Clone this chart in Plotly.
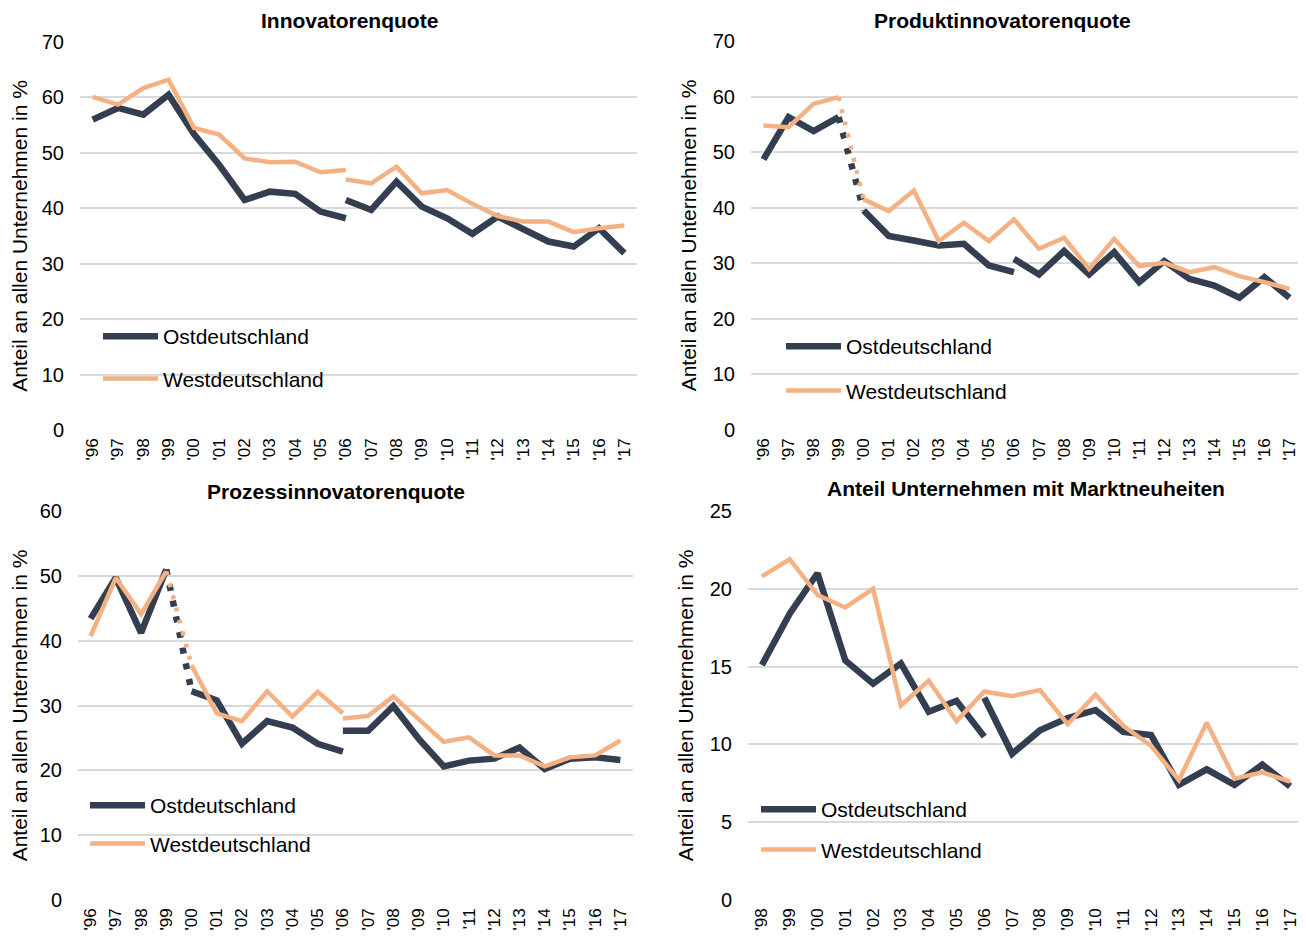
import plotly.graph_objects as go

# ---------------- data ----------------
years = ["'96", "'97", "'98", "'99", "'00", "'01", "'02", "'03", "'04", "'05", "'06",
         "'07", "'08", "'09", "'10", "'11", "'12", "'13", "'14", "'15", "'16", "'17"]
years_markt = years[2:]

# Innovatorenquote
innov_ost_9606 = [56.0, 58.1, 56.9, 60.5, 53.4, 47.8, 41.5, 43.0, 42.6, 39.4, 38.2]
innov_ost_0617 = [41.5, 39.7, 44.8, 40.3, 38.2, 35.4, 38.5, 36.4, 34.0, 33.1, 36.4, 31.9]
innov_west_9606 = [60.1, 58.7, 61.7, 63.2, 54.5, 53.3, 49.0, 48.3, 48.4, 46.5, 46.9]
innov_west_0617 = [45.2, 44.5, 47.5, 42.7, 43.3, 40.8, 38.6, 37.6, 37.6, 35.7, 36.4, 36.9]

# Produktinnovatorenquote
prod_ost_9699 = [48.7, 56.3, 53.8, 56.3]
prod_ost_9900 = [56.3, 39.5]
prod_ost_0006 = [39.5, 34.9, 34.1, 33.2, 33.5, 29.6, 28.4]
prod_ost_0617 = [30.8, 28.0, 32.2, 28.0, 32.0, 26.6, 30.4, 27.2, 26.0, 23.8, 27.5, 23.8]
prod_west_9699 = [54.8, 54.5, 58.7, 59.9]
prod_west_9900 = [59.9, 41.5]
prod_west_0017 = [41.5, 39.4, 43.1, 34.0, 37.3, 34.0, 37.9,
                  32.6, 34.6, 29.0, 34.4, 29.5, 30.1, 28.4, 29.3, 27.7, 26.6, 25.4]

# Prozessinnovatorenquote
proz_ost_9699 = [43.4, 49.7, 41.2, 51.0]
proz_ost_9900 = [51.0, 32.2]
proz_ost_0006 = [32.2, 30.8, 24.1, 27.6, 26.6, 24.1, 22.9]
proz_ost_0617 = [26.1, 26.1, 29.9, 24.9, 20.6, 21.5, 21.8, 23.5, 20.2, 21.8, 22.0, 21.6]
proz_west_9699 = [40.7, 49.7, 44.1, 50.7]
proz_west_9900 = [50.7, 36.2]
proz_west_0006 = [36.2, 28.8, 27.6, 32.2, 28.3, 32.1, 28.8]
proz_west_0617 = [28.0, 28.4, 31.4, 27.8, 24.4, 25.1, 22.3, 22.3, 20.6, 22.0, 22.3, 24.6]

# Anteil Unternehmen mit Marktneuheiten ('98 - '17)
markt_ost_9806 = [15.1, 18.4, 21.0, 15.4, 13.9, 15.2, 12.1, 12.8, 10.5]
markt_ost_0617 = [13.0, 9.4, 10.9, 11.7, 12.2, 10.8, 10.6, 7.4, 8.4, 7.4, 8.7, 7.3]
markt_west = [20.8, 21.9, 19.6, 18.8, 20.0, 12.5, 14.1, 11.5, 13.4, 13.1,
              13.5, 11.3, 13.2, 11.2, 9.9, 7.7, 11.4, 7.8, 8.2, 7.6]

titles = ["Innovatorenquote", "Produktinnovatorenquote",
          "Prozessinnovatorenquote", "Anteil Unternehmen mit Marktneuheiten"]
y_title = "Anteil an allen Unternehmen in %"
name_ost = "Ostdeutschland"
name_west = "Westdeutschland"

# ---------------- style ----------------
OFF = 8                      # page body margin of the exported html
W, H = 1306 - OFF, 937 - OFF
FONT = "Liberation Sans, Arial, sans-serif"
C_OST = "#333F50"
C_WEST = "#F4B183"
W_OST = 6.5
W_WEST = 4.5
DOT_OST = "6px,10px"
DOT_WEST = "4px,8.5px"


def fx(p):
    return (p - OFF) / W


def fy(p):
    return 1 - (p - OFF) / H


fig = go.Figure()


def seg(xs, ys, panel, color, width, name, group, legend, showlegend=False, dash="solid"):
    sfx = "" if panel == 1 else str(panel)
    fig.add_trace(go.Scatter(
        x=xs, y=ys, mode="lines", name=name,
        line=dict(color=color, width=width, dash=dash),
        xaxis="x" + sfx, yaxis="y" + sfx,
        legend=legend, legendgroup=group, showlegend=showlegend,
        hoverinfo="skip",
    ))


# Panel 1
seg(years[0:11], innov_ost_9606, 1, C_OST, W_OST, name_ost, "p1o", "legend", True)
seg(years[10:22], innov_ost_0617, 1, C_OST, W_OST, name_ost, "p1o", "legend")
seg(years[0:11], innov_west_9606, 1, C_WEST, W_WEST, name_west, "p1w", "legend", True)
seg(years[10:22], innov_west_0617, 1, C_WEST, W_WEST, name_west, "p1w", "legend")

# Panel 2
seg(years[0:4], prod_ost_9699, 2, C_OST, W_OST, name_ost, "p2o", "legend2", True)
seg(years[3:5], prod_ost_9900, 2, C_OST, W_OST, name_ost, "p2o", "legend2", dash=DOT_OST)
seg(years[4:11], prod_ost_0006, 2, C_OST, W_OST, name_ost, "p2o", "legend2")
seg(years[10:22], prod_ost_0617, 2, C_OST, W_OST, name_ost, "p2o", "legend2")
seg(years[0:4], prod_west_9699, 2, C_WEST, W_WEST, name_west, "p2w", "legend2", True)
seg(years[3:5], prod_west_9900, 2, C_WEST, W_WEST, name_west, "p2w", "legend2", dash=DOT_WEST)
seg(years[4:22], prod_west_0017, 2, C_WEST, W_WEST, name_west, "p2w", "legend2")

# Panel 3
seg(years[0:4], proz_ost_9699, 3, C_OST, W_OST, name_ost, "p3o", "legend3", True)
seg(years[3:5], proz_ost_9900, 3, C_OST, W_OST, name_ost, "p3o", "legend3", dash=DOT_OST)
seg(years[4:11], proz_ost_0006, 3, C_OST, W_OST, name_ost, "p3o", "legend3")
seg(years[10:22], proz_ost_0617, 3, C_OST, W_OST, name_ost, "p3o", "legend3")
seg(years[0:4], proz_west_9699, 3, C_WEST, W_WEST, name_west, "p3w", "legend3", True)
seg(years[3:5], proz_west_9900, 3, C_WEST, W_WEST, name_west, "p3w", "legend3", dash=DOT_WEST)
seg(years[4:11], proz_west_0006, 3, C_WEST, W_WEST, name_west, "p3w", "legend3")
seg(years[10:22], proz_west_0617, 3, C_WEST, W_WEST, name_west, "p3w", "legend3")

# Panel 4
seg(years_markt[0:9], markt_ost_9806, 4, C_OST, W_OST, name_ost, "p4o", "legend4", True)
seg(years_markt[8:20], markt_ost_0617, 4, C_OST, W_OST, name_ost, "p4o", "legend4")
seg(years_markt, markt_west, 4, C_WEST, W_WEST, name_west, "p4w", "legend4", True)

# ---------------- axes ----------------
panels = [
    # (x0, x1, ytop, ybottom, cats, ymax, dtick)
    (80, 637, 42, 430, years, 70, 10),
    (751, 1302, 41, 430, years, 70, 10),
    (78, 633, 511, 900, years, 60, 10),
    (748, 1304, 511, 900, years_markt, 25, 5),
]

layout = dict(
    width=W, height=H,
    margin=dict(l=0, r=0, t=0, b=0, autoexpand=False),
    paper_bgcolor="white", plot_bgcolor="white",
    font=dict(family=FONT, color="#000000", size=20),
    hovermode=False,
    annotations=[],
)

for i, (x0, x1, yt, yb, cats, ymax, dt) in enumerate(panels, start=1):
    sfx = "" if i == 1 else str(i)
    layout["xaxis" + sfx] = dict(
        domain=[fx(x0), fx(x1)], anchor="y" + sfx,
        type="category", categoryorder="array", categoryarray=cats,
        range=[-0.5, len(cats) - 0.5], automargin=False,
        showgrid=False, zeroline=False, showline=False, ticks="",
        tickangle=-90, tickfont=dict(size=17, color="#000000", family=FONT),
        ticklabelstandoff=4,
        fixedrange=True,
    )
    layout["yaxis" + sfx] = dict(
        domain=[fy(yb), fy(yt)], anchor="x" + sfx,
        range=[0, ymax], dtick=dt, tick0=0, automargin=False,
        showgrid=True, gridcolor="#D9D9D9", gridwidth=2,
        zeroline=False, showline=False, ticks="",
        tickfont=dict(size=20, color="#000000", family=FONT),
        ticklabelstandoff=15,
        title=dict(text=y_title, font=dict(size=21, color="#000000", family=FONT), standoff=10),
        fixedrange=True,
    )

title_pos = [(349, 21), (1002, 21), (336, 491), (1026, 488)]
for (tx, ty), t in zip(title_pos, titles):
    layout["annotations"].append(dict(
        text=t, x=fx(tx), y=fy(ty), xref="paper", yref="paper",
        xanchor="center", yanchor="middle", showarrow=False,
        font=dict(size=21, family=FONT, color="#000000", weight="bold"),
    ))

# (legend id, left px, top px, gap between the two entries)
legend_pos = [("legend", 98, 316, 12), ("legend2", 781, 326, 14),
              ("legend3", 85, 785, 8), ("legend4", 756, 789, 10)]
for key, lx, ly, gap in legend_pos:
    layout[key] = dict(
        x=fx(lx), y=fy(ly), xanchor="left", yanchor="top",
        xref="paper", yref="paper",
        bgcolor="rgba(0,0,0,0)", borderwidth=0,
        font=dict(size=21, family=FONT, color="#000000"),
        traceorder="grouped", tracegroupgap=gap, itemwidth=55,
        itemclick=False, itemdoubleclick=False,
    )

fig.update_layout(**layout)
fig.write_html("out.html")
